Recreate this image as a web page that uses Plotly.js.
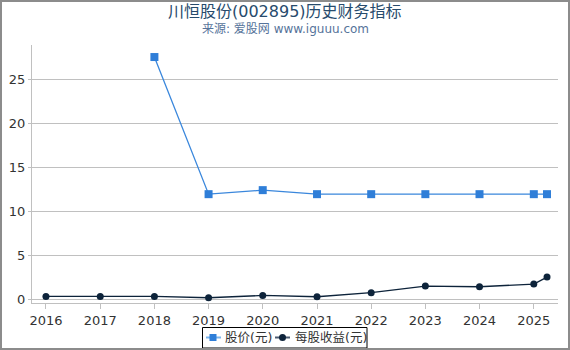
<!DOCTYPE html>
<html><head><meta charset="utf-8">
<script src="https://cdn.plot.ly/plotly-3.0.1.min.js"></script>
<style>
html,body{margin:0;padding:0;background:#fff;}
#wrap{position:relative;width:570px;height:350px;}
#chart{width:570px;height:350px;}
#frame{position:absolute;left:0;top:0;width:566px;height:346px;border:2px solid #8c8c8c;pointer-events:none;}
</style></head>
<body><div id="wrap"><div id="chart"></div><div id="frame"></div></div>
<script>
const dates = ["2016-01-01","2017-01-01","2018-01-01","2019-01-01","2020-01-01","2021-01-01","2022-01-01","2023-01-01","2024-01-01","2025-01-01","2025-03-31"];
const price = [null,null,27.53,11.93,12.39,11.93,11.93,11.93,11.93,11.93,11.93];
const eps = [0.30,0.30,0.30,0.15,0.41,0.26,0.72,1.48,1.40,1.70,2.50];
const tickYears = ["2016","2017","2018","2019","2020","2021","2022","2023","2024","2025"];
const seriesNames = ["股价(元)","每股收益(元)"];
const titleText = "川恒股份(002895)历史财务指标";
const subtitleText = "来源: 爱股网 www.iguuu.com";
const font = "DejaVu Sans, Noto Sans CJK SC, sans-serif";
const priceColor = "#2f7ed8", epsColor = "#0d233a";

// plot area geometry (pixels)
const L = 32, R = 12, T = 45, B = 47, W = 570, H = 350;
const pw = W - L - R, ph = H - T - B;
const px = x => (x - L) / pw;
const py = y => (H - B - y) / ph;

const traces = [
 {x:dates,y:price,name:seriesNames[0],type:"scatter",mode:"lines+markers",connectgaps:false,
  line:{color:"#3a87dc",width:1.3},marker:{symbol:"square",size:8,color:priceColor}},
 {x:dates,y:eps,name:seriesNames[1],type:"scatter",mode:"lines+markers",
  line:{color:epsColor,width:1.3},marker:{symbol:"circle",size:7,color:epsColor}}
];

const legY = 337.5;
const shapes = [
 {type:"rect",xref:"paper",yref:"paper",x0:px(202.5),x1:px(367),y0:py(327.5),y1:py(348),line:{color:"#000",width:1},fillcolor:"rgba(0,0,0,0)"},
 {type:"line",xref:"paper",yref:"paper",x0:px(206),x1:px(221),y0:py(legY),y1:py(legY),line:{color:"#7cb5ec",width:2}},
 {type:"rect",xref:"paper",yref:"paper",x0:px(209.5),x1:px(216.5),y0:py(legY-3.5),y1:py(legY+3.5),line:{width:0},fillcolor:priceColor},
 {type:"line",xref:"paper",yref:"paper",x0:px(275),x1:px(290),y0:py(legY),y1:py(legY),line:{color:"#4a5a70",width:2}},
 {type:"circle",xref:"paper",yref:"paper",x0:px(279),x1:px(286),y0:py(legY-3.5),y1:py(legY+3.5),line:{width:0},fillcolor:epsColor}
];

const layout = {
 width:W,height:H,
 margin:{l:L,r:R,t:T,b:B},
 paper_bgcolor:"#fff",plot_bgcolor:"#fff",
 font:{family:font,size:13,color:"#333"},
 showlegend:false,
 shapes:shapes,
 annotations:[
  {text:titleText,xref:"paper",yref:"paper",x:px(285),y:py(11.5),xanchor:"center",yanchor:"middle",
   showarrow:false,font:{family:font,size:16,color:"#274b6d"}},
  {text:subtitleText,xref:"paper",yref:"paper",x:px(285),y:py(28.5),xanchor:"center",yanchor:"middle",
   showarrow:false,font:{family:font,size:12,color:"#56739a"}},
  {text:seriesNames[0],xref:"paper",yref:"paper",x:px(223),y:py(legY),xanchor:"left",yanchor:"middle",
   showarrow:false,font:{family:font,size:12.5,color:"#333"}},
  {text:seriesNames[1],xref:"paper",yref:"paper",x:px(292.5),y:py(legY),xanchor:"left",yanchor:"middle",
   showarrow:false,font:{family:font,size:12.5,color:"#333"}}
 ],
 xaxis:{type:"date",range:["2015-09-29","2025-06-13"],
   tickvals:tickYears.map(y=>y+"-01-01"),ticktext:tickYears,
   showgrid:false,showline:true,linecolor:"#c0c0c0",linewidth:1,
   ticks:"outside",ticklen:5,tickcolor:"#c0c0c0",zeroline:false,
   tickfont:{size:13,color:"#333"}},
 yaxis:{range:[-0.45,28.9],tickvals:[0,5,10,15,20,25],showgrid:true,gridcolor:"#c0c0c0",gridwidth:1,
   showline:true,linecolor:"#c0c0c0",linewidth:1,zeroline:false,ticks:"outside",ticklen:3,tickcolor:"#c0c0c0",
   tickfont:{size:13,color:"#333"}}
};
Plotly.newPlot("chart",traces,layout,{displayModeBar:false,staticPlot:true});
</script></body></html>
